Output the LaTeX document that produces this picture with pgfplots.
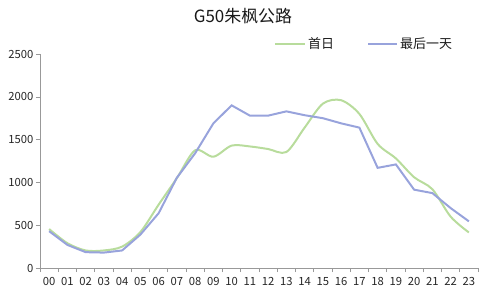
\documentclass[border=0pt]{standalone}
\usepackage{pgfplots}
\pgfplotsset{compat=1.18}
\usepackage{fontspec}
\setmainfont{Noto Sans CJK SC}
\definecolor{cgreen}{RGB}{184,220,156}
\definecolor{cblue}{RGB}{152,163,220}
\begin{document}
\begin{tikzpicture}[x=1bp,y=1bp]
\useasboundingbox (0,0) rectangle (488,302);
\begin{axis}[
  at={(40bp,34bp)}, anchor=south west,
  width=438bp, height=214bp, scale only axis,
  xmin=-0.5, xmax=23.5, ymin=0, ymax=2500,
  axis x line*=bottom, axis y line*=left,
  axis line style={draw=gray!80, line width=0.8pt},
  xtick={0,...,23},
  xticklabels={00,01,02,03,04,05,06,07,08,09,10,11,12,13,14,15,16,17,18,19,20,21,22,23},
  minor xtick={-0.5,0.5,...,23.5},
  major x tick style={draw=none},
  minor x tick style={draw=gray!80, line width=0.6pt},
  minor tick length=4bp,
  ytick={0,500,...,2500},
  y tick style={draw=gray!80, line width=0.6pt},
  major tick length=4bp,
  tick align=outside,
  tick label style={font=\fontsize{11.3}{12}\selectfont, text=black!85},
  /pgf/number format/assume math mode=true,
  yticklabel style={/pgf/number format/1000 sep={}, xshift=1bp},
  xticklabel style={yshift=-2bp, inner xsep=0pt},
  clip=false,
]
\addplot[cgreen, line width=2pt, smooth, tension=0.5] coordinates {
(0,455)(1,290)(2,205)(3,205)(4,250)(5,420)(6,740)(7,1050)(8,1375)(9,1300)(10,1430)(11,1420)(12,1390)(13,1355)(14,1640)(15,1920)(16,1960)(17,1800)(18,1450)(19,1280)(20,1060)(21,920)(22,600)(23,415)};
\addplot[cblue, line width=2pt] coordinates {
(0,430)(1,270)(2,185)(3,180)(4,205)(5,390)(6,640)(7,1055)(8,1340)(9,1690)(10,1900)(11,1780)(12,1780)(13,1830)(14,1785)(15,1750)(16,1690)(17,1640)(18,1170)(19,1210)(20,915)(21,875)(22,700)(23,545)};
\end{axis}
\node[font=\fontsize{17}{19}\selectfont, text=black!90] at (243,286) {G50朱枫公路};
\draw[cgreen, line width=2pt] (275,258) -- (305,258);
\node[anchor=west, font=\fontsize{13}{14}\selectfont, inner sep=0pt, text=black!90] at (308,258) {首日};
\draw[cblue, line width=2pt] (368,258) -- (397,258);
\node[anchor=west, font=\fontsize{13}{14}\selectfont, inner sep=0pt, text=black!90] at (400,258) {最后一天};
\end{tikzpicture}
\end{document}
